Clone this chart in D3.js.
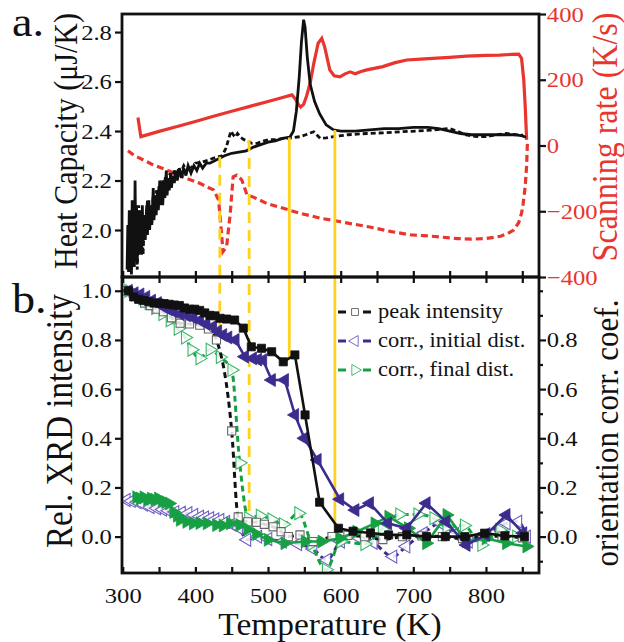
<!DOCTYPE html>
<html><head><meta charset="utf-8">
<script src="https://cdn.jsdelivr.net/npm/d3@7/dist/d3.min.js"></script>
<style>
body{margin:0;background:#fff}
text{font-family:"Liberation Serif","Times New Roman",Times,serif}
</style>
</head><body>
<svg id="c" width="624" height="642"></svg>
<script>
// ---------------- DATA ----------------
// Top panel: heat capacity (uJ/K) vs T (K)
const cpHeating = [[306,1.84],[307,2.02],[308,1.83],[309,2.08],[310,1.86],[311,1.95],[312,1.82],[313,2.12],[314,1.88],[315,2.05],[316,1.85],[317,2.20],[318,1.9],[319,2.1],[320,1.87],[321,2.0],[322,1.9],[323,2.08],[324,1.92],[325,2.03],[326,1.9],[327,2.1],[328,1.95],[330,2.06],[331,1.96],[333,2.1],[334,1.98],[336,2.12],[337,2.0],[339,2.1],[340,2.02],[342,2.17],[343,2.04],[345,2.14],[346,2.06],[348,2.16],[349,2.08],[351,2.2],[352,2.1],[354,2.18],[355,2.1],[357,2.2],[358,2.13],[360,2.24],[361,2.14],[363,2.21],[364,2.16],[366,2.23],[367,2.17],[369,2.22],[371,2.19],[373,2.24],[375,2.2],[378,2.25],[381,2.21],[384,2.25],[387,2.22],[390,2.26],[394,2.23],[398,2.26],[402,2.24],[406,2.27],[410,2.25],[415,2.27],[420,2.27],[430,2.285],[440,2.30],[450,2.31],[460,2.315],[470,2.32],[480,2.335],[490,2.345],[500,2.355],[510,2.36],[520,2.37],[530,2.375],[535,2.40],[539,2.48],[543,2.62],[546,2.76],[549,2.85],[551,2.82],[554,2.70],[558,2.59],[564,2.52],[571,2.47],[580,2.425],[590,2.405],[600,2.40],[620,2.40],[640,2.405],[660,2.41],[680,2.41],[700,2.415],[720,2.415],[735,2.41],[750,2.40],[765,2.39],[780,2.385],[800,2.385],[820,2.385],[840,2.385],[850,2.38],[855,2.375]];
const cpCooling = [[308,1.9],[310,2.0],[312,1.84],[314,2.05],[316,1.88],[318,1.98],[320,1.84],[322,2.1],[324,1.92],[326,2.04],[328,1.9],[330,2.06],[332,1.98],[334,2.12],[336,2.0],[338,2.08],[340,2.03],[342,2.14],[344,2.06],[346,2.16],[348,2.1],[350,2.18],[352,2.12],[354,2.2],[356,2.15],[359,2.22],[362,2.17],[365,2.23],[368,2.2],[371,2.24],[374,2.21],[377,2.25],[380,2.23],[384,2.26],[388,2.24],[392,2.26],[396,2.25],[400,2.27],[410,2.275],[420,2.285],[430,2.295],[437,2.30],[442,2.33],[446,2.37],[449,2.40],[452,2.385],[455,2.375],[458,2.39],[462,2.375],[467,2.365],[472,2.36],[478,2.35],[485,2.35],[492,2.358],[500,2.365],[510,2.365],[521,2.37],[532,2.372],[544,2.377],[552,2.385],[558,2.392],[563,2.397],[567,2.385],[572,2.37],[580,2.372],[590,2.377],[610,2.385],[636,2.39],[660,2.393],[682,2.397],[705,2.40],[727,2.404],[750,2.41],[760,2.40],[773,2.384],[785,2.378],[800,2.377],[815,2.385],[828,2.39],[840,2.385],[851,2.383]];
// Top panel: scanning rate (K/s) vs T (K)
const rateHeating = [[321,85],[322,70],[324,40],[325,27],[350,43],[375,58],[400,73],[425,89],[450,104],[475,119],[500,134],[520,146],[533,154],[538,140],[542,124],[545,117],[549,125],[553,150],[558,190],[563,250],[569,311],[574,326],[578,300],[585,230],[591,212],[599,209],[606,218],[613,224],[620,218],[628,225],[636,230],[658,240],[675,252],[691,260],[710,263],[727,265],[750,268],[773,272],[800,274],[819,275],[835,277],[845,278],[849,265],[852,200],[854,120],[856,17]];
const rateCooling = [[857,5],[856,-60],[854,-125],[851,-180],[849,-206],[845,-235],[838,-257],[830,-268],[820,-276],[800,-283],[780,-285],[760,-283],[740,-279],[720,-275],[697,-272],[670,-262],[640,-248],[620,-240],[600,-232],[572,-221],[544,-206],[521,-191],[498,-176],[480,-157],[471,-150],[464,-105],[457,-90],[452,-95],[448,-206],[443,-308],[438,-323],[436,-267],[432,-166],[425,-135],[420,-130],[406,-115],[388,-100],[360,-74],[340,-57],[315,-29],[306,-14]];
// Transition markers (yellow): temperature, Cp at top end, XRD value at bottom end
const markerT      = [433.6, 474, 529.3, 592];
const markerTopCp  = [2.296, 2.364, 2.374, 2.404];
const markerBotVal = [0.827, 0.056, 0.725, 0.02];
const markerRun    = ["cooling","cooling","heating","heating"];

// Bottom panel: relative XRD intensity / orientation correlation coefficient
const peakHeating = [[308,1.0],[315,0.975],[322,0.965],[329,0.96],[336,0.955],[343,0.95],[350,0.95],[357,0.948],[364,0.945],[371,0.942],[378,0.94],[385,0.93],[392,0.925],[399,0.925],[406,0.92],[413,0.91],[420,0.90],[427,0.898],[434,0.888],[443,0.885],[454,0.881],[466,0.848],[477,0.772],[491,0.766],[505,0.752],[521,0.711],[537,0.739],[551,0.495],[571,0.14],[597,0.034],[617,0.022],[641,0.015],[666,0.007],[691,0.007],[718,0.0],[744,0.0],[771,0.0],[798,0.014],[826,0.003],[853,0.0]];
const peakCooling = [[305,1.0],[314,0.99],[322,0.97],[330,0.95],[338,0.94],[347,0.925],[356,0.915],[367,0.89],[379,0.868],[392,0.865],[406,0.86],[418,0.845],[429,0.80],[450,0.43],[459,0.08],[472,0.06],[484,0.058],[495,0.05],[507,0.04],[518,0.02],[528,0.0],[544,0.007],[562,-0.02],[588,0.0],[610,0.005],[633,0.0],[658,-0.012],[685,0.0],[712,0.003],[740,0.0],[768,-0.008],[795,0.0],[822,0.002],[850,-0.005]];
const corrInitHeating = [[308,1.0],[316,0.99],[324,0.985],[332,0.975],[340,0.96],[348,0.95],[356,0.935],[363,0.925],[370,0.915],[379,0.905],[388,0.90],[397,0.89],[406,0.88],[415,0.865],[424,0.854],[431,0.835],[438,0.82],[445,0.81],[455,0.80],[468,0.732],[479,0.725],[486,0.72],[493,0.718],[505,0.637],[523,0.637],[537,0.495],[550,0.40],[568,0.312],[599,0.152],[620,0.108],[640,0.136],[665,0.054],[691,0.034],[718,0.136],[745,0.061],[773,-0.034],[800,0.007],[828,0.088],[851,0.014]];
const corrInitCooling = [[305,0.149],[312,0.145],[320,0.14],[329,0.13],[338,0.12],[347,0.115],[355,0.11],[363,0.105],[372,0.10],[381,0.097],[390,0.095],[398,0.088],[406,0.081],[413,0.078],[420,0.075],[427,0.07],[434,0.068],[442,0.06],[450,0.05],[460,0.035],[471,-0.013],[486,0.0],[500,-0.01],[520,-0.02],[541,-0.03],[562,-0.05],[581,-0.095],[600,-0.02],[622,0.0],[645,-0.025],[672,-0.081],[690,-0.04],[714,0.014],[737,0.054],[757,0.01],[776,-0.02],[800,0.01],[828,0.054],[844,0.061],[856,0.0]];
const corrFinalHeating = [[319,0.16],[324,0.155],[329,0.16],[334,0.15],[339,0.155],[344,0.15],[349,0.155],[354,0.145],[359,0.14],[364,0.135],[370,0.10],[375,0.085],[379,0.068],[388,0.06],[397,0.054],[406,0.055],[416,0.054],[429,0.047],[438,0.045],[448,0.054],[461,0.047],[472,0.03],[484,0.01],[500,-0.013],[523,-0.027],[551,-0.02],[574,-0.02],[599,-0.007],[622,0.02],[647,0.054],[666,0.081],[693,0.034],[718,-0.027],[746,0.088],[773,-0.02],[800,-0.007],[828,-0.027],[856,-0.04]];
const corrFinalCooling = [[308,1.0],[318,0.985],[327,0.97],[336,0.95],[345,0.93],[355,0.905],[365,0.88],[376,0.845],[386,0.81],[395,0.76],[406,0.725],[420,0.76],[434,0.73],[450,0.678],[461,0.30],[473,0.075],[489,0.085],[505,0.07],[521,0.05],[542,0.095],[560,-0.03],[580,-0.135],[600,-0.02],[633,-0.03],[657,0.03],[681,0.09],[706,0.09],[728,0.075],[746,0.04],[770,0.045],[794,-0.034],[819,0.027],[842,0.0]];

const legendLabels = ["peak intensity","corr., initial dist.","corr., final dist."];
const xTicks = [300,350,400,450,500,550,600,650,700,750,800,850];
const xLabels = [300,400,500,600,700,800];
const cpTicks = [2.0,2.2,2.4,2.6,2.8];
const rateTicks = [-400,-200,0,200,400];
const relTicks = [0,0.2,0.4,0.6,0.8,1.0];
const corrTicks = [0,0.2,0.4,0.6,0.8];
const corrMinor = [-0.1,0.1,0.3,0.5,0.7,0.9,1.0];

// ---------------- LAYOUT ----------------
const L=122, R=539, T1=14, M=277, B=573;
const RED="#e8352d", PURPLE="#3b2c8e", PURPLE_L="#6f5fc4", GREEN="#17a043", GREEN_L="#3bb86a", YEL="#ffd21f", BLK="#111";
const SX=1.12;
const FONT='"Liberation Serif","Times New Roman",Times,serif';

const svg=d3.select("#c");
const x=d3.scaleLinear().domain([299,873]).range([L,R]);
const yCp=d3.scaleLinear().domain([1.81,2.873]).range([M,T1]);
const yRate=d3.scaleLinear().domain([-400,400]).range([M,T1]);
const yB=d3.scaleLinear().domain([-0.148,1.056]).range([B,M]);

const defs=svg.append("defs");
defs.append("clipPath").attr("id","clipT").append("rect").attr("x",L).attr("y",T1).attr("width",R-L).attr("height",M-T1);
defs.append("clipPath").attr("id","clipB").append("rect").attr("x",L).attr("y",M).attr("width",R-L).attr("height",B-M);

// ---------- top panel ----------
const gT=svg.append("g").attr("clip-path","url(#clipT)");
const lineRate=d3.line().x(d=>x(d[0])).y(d=>yRate(d[1]));
const lineCp=d3.line().x(d=>x(d[0])).y(d=>yCp(d[1]));
gT.append("path").datum(rateCooling).attr("d",lineRate).attr("fill","none").attr("stroke",RED).attr("stroke-width",3.2).attr("stroke-dasharray","7,4");
gT.append("path").datum(rateHeating).attr("d",lineRate).attr("fill","none").attr("stroke",RED).attr("stroke-width",3.2);

// yellow transition lines (span both panels)
const gY=svg.append("g");
markerT.forEach((t,i)=>{
  gY.append("line").attr("x1",x(t)).attr("x2",x(t)).attr("y1",yCp(markerTopCp[i])).attr("y2",yB(markerBotVal[i]))
    .attr("stroke",YEL).attr("stroke-width",2.8).attr("stroke-dasharray",markerRun[i]==="cooling"?"11,7":null);
});

gT.append("path").datum(cpCooling).attr("d",lineCp).attr("fill","none").attr("stroke",BLK).attr("stroke-width",2.8).attr("stroke-dasharray","5,3");
gT.append("path").datum(cpHeating).attr("d",lineCp).attr("fill","none").attr("stroke",BLK).attr("stroke-width",2.8);

// ---------- bottom panel ----------
const gB=svg.append("g").attr("clip-path","url(#clipB)");
const lineLin=d3.line().x(d=>x(d[0])).y(d=>yB(d[1]));
const lineSm=d3.line().x(d=>x(d[0])).y(d=>yB(d[1])).curve(d3.curveMonotoneX);
const series=[
 {data:corrInitCooling, color:PURPLE, light:PURPLE_L, filled:false, shape:"left"},
 {data:corrFinalCooling, color:GREEN, light:GREEN_L, filled:false, shape:"right"},
 {data:peakCooling, color:BLK, light:"#666", filled:false, shape:"square"},
 {data:corrFinalHeating, color:GREEN, light:GREEN, filled:true, shape:"right"},
 {data:corrInitHeating, color:PURPLE, light:PURPLE, filled:true, shape:"left"},
 {data:peakHeating, color:BLK, light:BLK, filled:true, shape:"square"}
];
function symPath(shape){
  if(shape==="square") return d3.symbol().type(d3.symbolSquare).size(66)();
  return d3.symbol().type(d3.symbolTriangle).size(72)();
}
function symRot(shape){return shape==="left"?-90:(shape==="right"?90:0);}
series.forEach(s=>{
  gB.append("path").datum(s.data).attr("d",s.filled?lineLin:lineSm).attr("fill","none")
    .attr("stroke",s.color).attr("stroke-width",s.filled?2.6:3).attr("stroke-dasharray",s.filled?null:"6,4");
  gB.selectAll(null).data(s.data).enter().append("path")
    .attr("d",symPath(s.shape))
    .attr("transform",d=>`translate(${x(d[0])},${yB(d[1])}) rotate(${symRot(s.shape)})`)
    .attr("fill",s.filled?s.color:"#fff").attr("fill-opacity",s.filled?1:0.85)
    .attr("stroke",s.light).attr("stroke-width",s.filled?0.8:1.1);
});

// ---------- axes ----------
function styleAxis(g,fs,color){
  g.select(".domain").remove();
  g.attr("font-family",null);
  g.selectAll(".tick line").attr("stroke",BLK).attr("stroke-width",2.2);
  g.selectAll(".tick text").attr("font-size",fs).attr("fill",color||BLK)
    .style("font-family",FONT).attr("transform",`scale(${SX},1)`);
}
// middle axis ticks crossing
svg.append("g").attr("transform",`translate(0,${M})`).call(d3.axisBottom(x).tickValues(xTicks).tickSize(6).tickFormat("")).call(g=>styleAxis(g,0));
svg.append("g").attr("transform",`translate(0,${M})`).call(d3.axisTop(x).tickValues(xTicks).tickSize(6).tickFormat("")).call(g=>styleAxis(g,0));
// bottom axis (inward ticks)
svg.append("g").attr("transform",`translate(0,${B})`)
  .call(d3.axisBottom(x).tickValues(xTicks).tickSizeInner(-6).tickSizeOuter(0).tickPadding(14).tickFormat(d=>xLabels.includes(d)?d:""))
  .call(g=>styleAxis(g,22));
// left top
svg.append("g").attr("transform",`translate(${L},0)`)
  .call(d3.axisLeft(yCp).tickValues(cpTicks).tickSize(7).tickPadding(2).tickFormat(d3.format(".1f")))
  .call(g=>styleAxis(g,22));
// right top (red labels)
svg.append("g").attr("transform",`translate(${R},0)`)
  .call(d3.axisRight(yRate).tickValues(rateTicks).tickSize(7).tickPadding(0).tickFormat(d3.format("d")))
  .call(g=>styleAxis(g,22,RED));
// left bottom
svg.append("g").attr("transform",`translate(${L},0)`)
  .call(d3.axisLeft(yB).tickValues(relTicks).tickSize(7).tickPadding(2).tickFormat(d3.format(".1f")))
  .call(g=>styleAxis(g,22));
// right bottom
svg.append("g").attr("transform",`translate(${R},0)`)
  .call(d3.axisRight(yB).tickValues(corrTicks).tickSize(7).tickPadding(0).tickFormat(d3.format(".1f")))
  .call(g=>styleAxis(g,22));
svg.append("g").attr("transform",`translate(${R},0)`)
  .call(d3.axisRight(yB).tickValues(corrMinor).tickSize(4).tickFormat(""))
  .call(g=>styleAxis(g,0));

// frames
svg.append("rect").attr("x",L).attr("y",T1).attr("width",R-L).attr("height",M-T1).attr("fill","none").attr("stroke",BLK).attr("stroke-width",2.8);
svg.append("rect").attr("x",L).attr("y",M).attr("width",R-L).attr("height",B-M).attr("fill","none").attr("stroke",BLK).attr("stroke-width",2.8);

// ---------- legend ----------
const leg=svg.append("g");
const legSeries=[series[2],series[0],series[1]];
legSeries.forEach((s,i)=>{
  const cy=312+i*29;
  leg.append("line").attr("x1",338).attr("x2",346).attr("y1",cy).attr("y2",cy).attr("stroke",s.color).attr("stroke-width",3);
  leg.append("line").attr("x1",363).attr("x2",371).attr("y1",cy).attr("y2",cy).attr("stroke",s.color).attr("stroke-width",3);
  leg.append("path").attr("d",symPath(s.shape)).attr("transform",`translate(355,${cy}) rotate(${symRot(s.shape)}) scale(0.85)`)
    .attr("fill","#fff").attr("stroke",s.light).attr("stroke-width",1.1);
  leg.append("text").attr("transform",`translate(378,${cy+6}) scale(${SX},1)`).attr("font-size",20).style("font-family",FONT).attr("fill",BLK).text(legendLabels[i]);
});

// ---------- titles ----------
function hText(txt,cx,by,fs,color,anchor,sx){
  svg.append("text").attr("transform",`translate(${cx},${by}) scale(${sx||SX},1)`).attr("text-anchor",anchor||"middle")
    .attr("font-size",fs).style("font-family",FONT).attr("fill",color||BLK).text(txt);
}
function vText(txt,bx,cy,fs,color){
  svg.append("text").attr("transform",`translate(${bx},${cy}) rotate(-90) scale(1,${SX})`).attr("text-anchor","middle")
    .attr("font-size",fs).style("font-family",FONT).attr("fill",color||BLK).text(txt);
}
hText("a.",12,36,42,BLK,"start",1.1);
hText("b.",12,313,42,BLK,"start",1.1);
hText("Temperature (K)",330,635,31,BLK,"middle",1.08);
vText("Heat Capacity (μJ/K)",77,141,30);
vText("Rel. XRD intensity",72,421,33);
vText("Scanning rate (K/s)",617,137,32,RED);
vText("orientation corr. coef.",618,433,31);
</script>
</body></html>
